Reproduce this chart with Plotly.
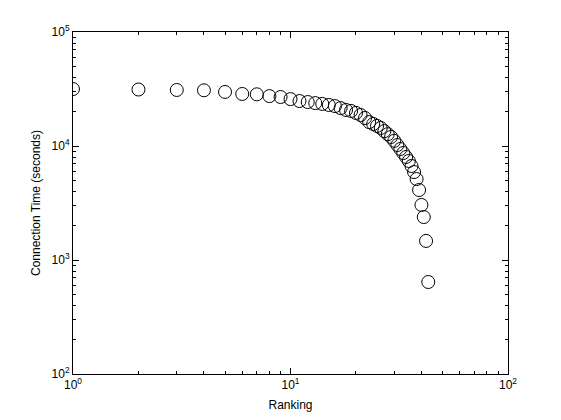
import plotly.graph_objects as go

ranking = list(range(1, 44))
connection_time = [
    31600, 31300, 31000, 30800, 29800, 28600, 28400, 27400, 26900, 25800,
    24800, 24300, 23800, 23400, 22900, 22400, 21500, 20700, 20300, 19500,
    18700, 17600, 16200, 15600, 15000, 14400, 13500, 12700, 12000, 11100,
    10200, 9410, 8680, 8010, 7390, 6680, 5910, 5130, 4110, 3040,
    2380, 1470, 641,
]

x_tick_vals = [1, 10, 100]
x_tick_text = ["10<sup>0</sup>", "10<sup>1</sup>", "10<sup>2</sup>"]
y_tick_vals = [100, 1000, 10000, 100000]
y_tick_text = ["10<sup>2</sup>", "10<sup>3</sup>", "10<sup>4</sup>", "10<sup>5</sup>"]

x_minor = [m * 10 ** d for d in range(0, 2) for m in range(2, 10)]
y_minor = [m * 10 ** d for d in range(2, 5) for m in range(2, 10)]

font = dict(family="Liberation Sans, Arial, sans-serif", size=12, color="black")

fig = go.Figure(
    go.Scatter(
        x=ranking,
        y=connection_time,
        mode="markers",
        marker=dict(symbol="circle-open", size=13, color="black",
                    line=dict(width=1, color="black")),
        showlegend=False,
    )
)

axis_common = dict(
    type="log",
    showgrid=False,
    zeroline=False,
    showline=True,
    linecolor="black",
    linewidth=1,
    mirror="allticks",
    ticks="inside",
    ticklen=6,
    tickcolor="black",
    tickwidth=1,
    tickmode="array",
    tickfont=font,
    automargin=False,
)

fig.update_xaxes(
    **axis_common,
    range=[0, 2],
    tickvals=x_tick_vals,
    ticktext=x_tick_text,
    minor=dict(tickmode="array", tickvals=x_minor, ticks="inside", ticklen=3,
               tickcolor="black", showgrid=False),
    title=dict(text="Ranking", font=font, standoff=10),
)
fig.update_yaxes(
    **axis_common,
    range=[2, 5],
    tickvals=y_tick_vals,
    ticktext=y_tick_text,
    minor=dict(tickmode="array", tickvals=y_minor, ticks="inside", ticklen=3,
               tickcolor="black", showgrid=False),
    title=dict(text="Connection Time (seconds)", font=font, standoff=8),
)

fig.update_layout(
    width=545,
    height=404,
    margin=dict(l=65, r=45, t=24, b=38),
    paper_bgcolor="white",
    plot_bgcolor="white",
    font=font,
)

fig.write_html("out.html")
